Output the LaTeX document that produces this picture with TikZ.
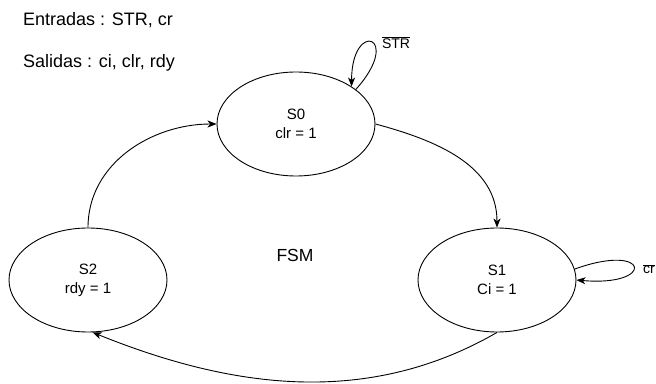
\documentclass[tikz,border=0pt]{standalone}
\usepackage{fontspec}
\setmainfont{Liberation Sans}
\usetikzlibrary{shapes.geometric,arrows.meta}

\begin{document}
\begin{tikzpicture}[x=1pt,y=1pt]
\tikzset{state/.style = {shape=ellipse,draw,line width=0.9pt,minimum width=158pt,minimum height=104pt,inner sep=0pt,align=center,font=\fontsize{15}{19}\selectfont}}
\tikzset{edge/.style = {-{Stealth[length=9pt,width=7pt,inset=2.5pt]},line width=0.9pt}}
\tikzset{note/.style = {inner sep=0pt,font=\fontsize{18}{21}\selectfont}}
\tikzset{cond/.style = {inner sep=0pt,font=\fontsize{14}{16}\selectfont}}
\useasboundingbox (0,0) rectangle (656,383);
% inputs and outputs
\node[note,anchor=base west] (ins)  at (23,357) {Entradas : STR, cr};
\node[note,anchor=base west] (outs) at (23,315) {Salidas : ci, clr, rdy};
\node[note,anchor=base,font=\fontsize{17.5}{20}\selectfont] (fsm) at (295,121) {FSM};
% states
\node[state] (s0) at (296,259) {S0\\clr = 1};
\node[state] (s1) at (497,103) {S1\\Ci = 1};
\node[state] (s2) at (88,103)  {S2\\rdy = 1};
% conditions
\node[cond] (nstr) at (396,340) {$\overline{\mbox{STR}}$};
\node[cond] (ncr)  at (649,114) {$\overline{\mbox{cr}}$};
% edges
\draw[edge] (s0.east)  to[out=-15,in=90] (s1.north);
\draw[edge] (s1.south) to[out=-150,in=-22,looseness=0.95] (s2.-85);
\draw[edge] (s2.north) to[out=90,in=180] (s0.west);
% self loops
\draw[edge] (s0.30) .. controls +(48:72) and +(90:68) .. (s0.34);
\draw[edge] (s1.8)  .. controls +(20:80) and +(-5:80) .. (s1.0);
\end{tikzpicture}
\end{document}
